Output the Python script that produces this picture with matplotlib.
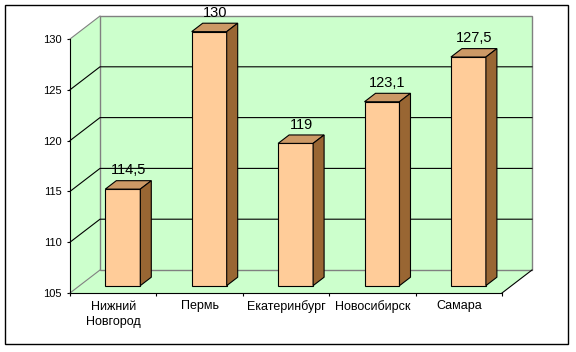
import matplotlib
matplotlib.use("Agg")
import matplotlib.pyplot as plt
from matplotlib.patches import Polygon, Rectangle

plt.rcParams["font.family"] = ["Liberation Sans", "DejaVu Sans"]

cities = ["Нижний\nНовгород", "Пермь", "Екатеринбург", "Новосибирск", "Самара"]
values = [114.5, 130, 119, 123.1, 127.5]
value_labels = ["114,5", "130", "119", "123,1", "127,5"]
yticks = [105, 110, 115, 120, 125, 130]

WALL = "#CCFFCC"
FRONT, TOP, SIDE = "#FFCC99", "#CC9966", "#996633"
EDGE_GRAY = "#808080"

fig = plt.figure(figsize=(5.76, 3.52), dpi=100)
ax = fig.add_axes([70 / 576, 59 / 352, 432 / 576, 254 / 352])
ymin, ymax = yticks[0], yticks[-1]
ax.set_xlim(-0.5, len(cities) - 0.5)
ax.set_ylim(ymin, ymax)
ax.patch.set_visible(False)

# depth of the pseudo-3D box in data units (30px right, 23px up)
DX = 30 / 86.4
DY = 23 / 254 * (ymax - ymin)
x0, x1 = -0.5, len(cities) - 0.5

kw = dict(clip_on=False, zorder=1)
# side wall, floor, back wall
ax.add_patch(Polygon([(x0, ymin), (x0 + DX, ymin + DY), (x0 + DX, ymax + DY), (x0, ymax)],
                     fc=WALL, ec="none", **kw))
ax.add_patch(Polygon([(x0, ymin), (x1, ymin), (x1 + DX, ymin + DY), (x0 + DX, ymin + DY)],
                     fc=WALL, ec="none", **kw))
ax.add_patch(Rectangle((x0 + DX, ymin + DY), x1 - x0, ymax - ymin,
                       fc=WALL, ec=EDGE_GRAY, lw=1, **kw))

# gridlines on side and back walls
for v in yticks[1:-1]:
    ax.plot([x0, x0 + DX, x1 + DX], [v, v + DY, v + DY], color="black", lw=0.8,
            clip_on=False, zorder=2)
for v in (ymin, ymax):
    ax.plot([x0, x0 + DX], [v, v + DY], color=EDGE_GRAY, lw=0.8, clip_on=False, zorder=2)
ax.plot([x1, x1 + DX], [ymin, ymin + DY], color="black", lw=0.8, clip_on=False, zorder=2)

# bars
W = 0.405
t0, t1 = 0.32, 0.32 + 11 / 30
for i, (v, lab) in enumerate(zip(values, value_labels)):
    xl = i - W / 2 + t0 * DX
    xr = xl + W
    bx, by = (t1 - t0) * DX, (t1 - t0) * DY
    yb = ymin + t0 * DY
    yt = v + t0 * DY
    ax.add_patch(Rectangle((xl, yb), W, v - ymin, fc=FRONT, ec="black", lw=0.8,
                           clip_on=False, zorder=5))
    ax.add_patch(Polygon([(xl, yt), (xr, yt), (xr + bx, yt + by), (xl + bx, yt + by)],
                         fc=TOP, ec="black", lw=0.8, clip_on=False, zorder=5))
    ax.add_patch(Polygon([(xr, yb), (xr + bx, yb + by), (xr + bx, yt + by), (xr, yt)],
                         fc=SIDE, ec="black", lw=0.8, clip_on=False, zorder=5))
    ax.annotate(lab, ((xl + xr + bx) / 2, yt + by), xytext=(0, 4.5),
                textcoords="offset points", ha="center", va="baseline",
                fontsize=10.5, annotation_clip=False, zorder=6)

for s in ("top", "right"):
    ax.spines[s].set_visible(False)
for s in ("left", "bottom"):
    ax.spines[s].set_linewidth(0.8)
    ax.spines[s].set_zorder(3)

ax.set_yticks(yticks)
ax.tick_params(axis="y", direction="out", length=2.2, width=0.8, pad=3.5, labelsize=8)
ax.set_xticks(range(len(cities)))
ax.set_xticklabels(cities, linespacing=1.35)
ax.set_xticks([k - 0.5 for k in range(len(cities) + 1)], minor=True)
ax.tick_params(axis="x", which="major", length=0, pad=5.4, labelsize=9)
ax.tick_params(axis="x", which="minor", direction="out", length=2.2, width=0.8)

fig.add_artist(Rectangle((5 / 576, 8 / 352), 563 / 576, 339 / 352, transform=fig.transFigure,
                         fill=False, ec="black", lw=1))

fig.savefig("out.png", dpi=100, facecolor="white")
